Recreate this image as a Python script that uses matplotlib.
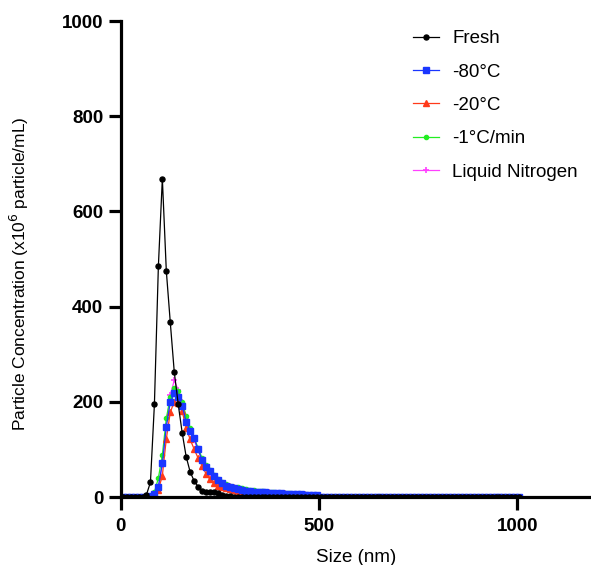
import matplotlib.pyplot as plt
import numpy as np

plt.rcParams['font.family'] = ['Liberation Sans', 'DejaVu Sans']

# bin centres (nm), 10 nm bins
size_nm = np.arange(5, 1006, 10)

fresh = [0, 0, 0, 0, 0, 1, 5, 31, 195, 485,
         669, 475, 367, 263, 195, 135, 85, 53, 34, 22,
         13, 10, 10, 10, 8, 4, 2, 1.5, 1, 1,
         0.8, 0.8, 0.7, 0.7, 0.6, 0.6, 0.6, 0.5, 0.5, 0.5,
         0.5, 0.5, 0.4, 0.4, 0.4, 0.4, 0.4, 0.4, 0.3, 0.3,
         0.3, 0.3, 0.3, 0.3, 0.3, 0.3, 0.3, 0.2, 0.2, 0.2,
         0.2, 0.2, 0.2, 0.2, 0.2, 0.2, 0.2, 0.2, 0.2, 0.2,
         0.2, 0.2, 0.2, 0.2, 0.2, 0.1, 0.1, 0.1, 0.1, 0.1,
         0.1, 0.1, 0.1, 0.1, 0.1, 0.1, 0.1, 0.1, 0.1, 0.1,
         0.1, 0.1, 0.1, 0.1, 0.1, 0.1, 0.1, 0.1, 0.1, 0.1,
         0.1]

minus80 = [0, 0, 0, 0, 0, 0, 1, 3, 6, 22,
           71, 148, 199, 218, 210, 192, 158, 139, 124, 100,
           78, 64, 54, 44, 36, 29, 24, 21, 18, 16,
           14.5, 13, 12, 11, 10.5, 10, 9.5, 9, 8.5, 8,
           7.5, 7, 6.5, 6, 5.8, 5.5, 5, 4.8, 4.5, 4,
           1, 0.8, 0.7, 0.6, 0.6, 0.5, 0.5, 0.5, 0.4, 0.4,
           0.4, 0.4, 0.3, 0.3, 0.3, 0.3, 0.3, 0.3, 0.3, 0.2,
           0.2, 0.2, 0.2, 0.2, 0.2, 0.2, 0.2, 0.2, 0.2, 0.2,
           0.2, 0.2, 0.1, 0.1, 0.1, 0.1, 0.1, 0.1, 0.1, 0.1,
           0.1, 0.1, 0.1, 0.1, 0.1, 0.1, 0.1, 0.1, 0.1, 0.1,
           0.1]

minus20 = [0, 0, 0, 0, 0, 0, 0, 1, 4, 15,
           45, 122, 178, 200, 198, 180, 146, 121, 101, 82,
           66, 49, 37, 29, 24, 20, 18, 16, 14.5, 13,
           12, 11, 10, 9.5, 9, 8, 7.5, 7, 6.8, 6.5,
           6, 5.8, 5.5, 5.2, 5, 4.5, 4.2, 4, 3.8, 3.5,
           0.8, 0.7, 0.6, 0.5, 0.5, 0.5, 0.4, 0.4, 0.4, 0.3,
           0.3, 0.3, 0.3, 0.3, 0.3, 0.2, 0.2, 0.2, 0.2, 0.2,
           0.2, 0.2, 0.2, 0.2, 0.2, 0.2, 0.1, 0.1, 0.1, 0.1,
           0.1, 0.1, 0.1, 0.1, 0.1, 0.1, 0.1, 0.1, 0.1, 0.1,
           0.1, 0.1, 0.1, 0.1, 0.1, 0.1, 0.1, 0.1, 0.1, 0.1,
           0.1]

minus1_per_min = [0, 0, 0, 0, 0, 0, 1, 3, 10, 40,
                  88, 165, 210, 228, 222, 200, 170, 145, 125, 103,
                  82, 67, 56, 46, 38, 32, 28, 24, 22, 20,
                  18, 16.5, 15, 14, 13, 12, 11, 10, 9.5, 9,
                  8.5, 8, 7.5, 7, 6.5, 6, 5.5, 5, 4.5, 4,
                  1, 0.8, 0.7, 0.6, 0.6, 0.5, 0.5, 0.5, 0.4, 0.4,
                  0.4, 0.4, 0.3, 0.3, 0.3, 0.3, 0.3, 0.3, 0.3, 0.2,
                  0.2, 0.2, 0.2, 0.2, 0.2, 0.2, 0.2, 0.2, 0.2, 0.2,
                  0.2, 0.2, 0.1, 0.1, 0.1, 0.1, 0.1, 0.1, 0.1, 0.1,
                  0.1, 0.1, 0.1, 0.1, 0.1, 0.1, 0.1, 0.1, 0.1, 0.1,
                  0.1]

liquid_n2 = [0, 0, 0, 0, 0, 0, 1, 2, 5, 20,
             68, 150, 214, 245, 225, 200, 165, 140, 120, 98,
             78, 62, 50, 41, 35, 30, 26, 23, 20, 18,
             16, 15, 13.5, 12.5, 11.5, 11, 10, 9.5, 9, 8.5,
             8, 7.5, 7, 6.5, 6, 5.8, 5.5, 5, 4.5, 4,
             1, 0.8, 0.7, 0.6, 0.6, 0.5, 0.5, 0.5, 0.4, 0.4,
             0.4, 0.4, 0.3, 0.3, 0.3, 0.3, 0.3, 0.3, 0.3, 0.2,
             0.2, 0.2, 0.2, 0.2, 0.2, 0.2, 0.2, 0.2, 0.2, 0.2,
             0.2, 0.2, 0.1, 0.1, 0.1, 0.1, 0.1, 0.1, 0.1, 0.1,
             0.1, 0.1, 0.1, 0.1, 0.1, 0.1, 0.1, 0.1, 0.1, 0.1,
             0.1]

fig = plt.figure(figsize=(5.91, 5.65), dpi=100)
ax = fig.add_axes([120.7 / 591, 68 / 565, 470 / 591, 476 / 565])

lw = 0.9
h_ln, = ax.plot(size_nm, liquid_n2, color='#ff40ff', marker='+', markersize=4,
                markeredgewidth=1.2, linewidth=lw, label='Liquid Nitrogen')
h_m1, = ax.plot(size_nm, minus1_per_min, color='#22ee22', marker='o', markersize=3,
                linewidth=lw, label='-1°C/min')
h_m20, = ax.plot(size_nm, minus20, color='#ff3a1a', marker='^', markersize=4,
                 linewidth=lw, label='-20°C')
h_m80, = ax.plot(size_nm, minus80, color='#1a36ff', marker='s', markersize=4.5,
                 linewidth=lw, label='-80°C')
h_fr, = ax.plot(size_nm, fresh, color='black', marker='o', markersize=3.6,
                linewidth=lw, label='Fresh')

ax.set_xlim(0, 1185)
ax.set_ylim(0, 1000)
ax.set_xticks([0, 500, 1000])
ax.set_yticks([0, 200, 400, 600, 800, 1000])

for side in ['top', 'right']:
    ax.spines[side].set_visible(False)
for side in ['left', 'bottom']:
    ax.spines[side].set_linewidth(2.3)

ax.tick_params(axis='both', length=9, width=2.3, labelsize=13.5)
ax.tick_params(axis='x', pad=6)
ax.tick_params(axis='y', pad=3.5)
for lbl in ax.get_xticklabels() + ax.get_yticklabels():
    lbl.set_fontweight('bold')

ax.set_xlabel('Size (nm)', fontsize=13.5)
ax.set_ylabel('Particle Concentration (x10$^{6}$ particle/mL)', fontsize=12.5)
ax.yaxis.set_label_coords(-0.19, 0.47)
ax.xaxis.set_label_coords(0.5, -0.11)

ax.legend(handles=[h_fr, h_m80, h_m20, h_m1, h_ln], frameon=False, fontsize=13.5,
          loc='upper left', bbox_to_anchor=(413 / 591, 535 / 565),
          bbox_transform=fig.transFigure, borderpad=0, borderaxespad=0,
          handlelength=1.4, handletextpad=0.7, labelspacing=0.87)

fig.savefig('out.png', dpi=100)
